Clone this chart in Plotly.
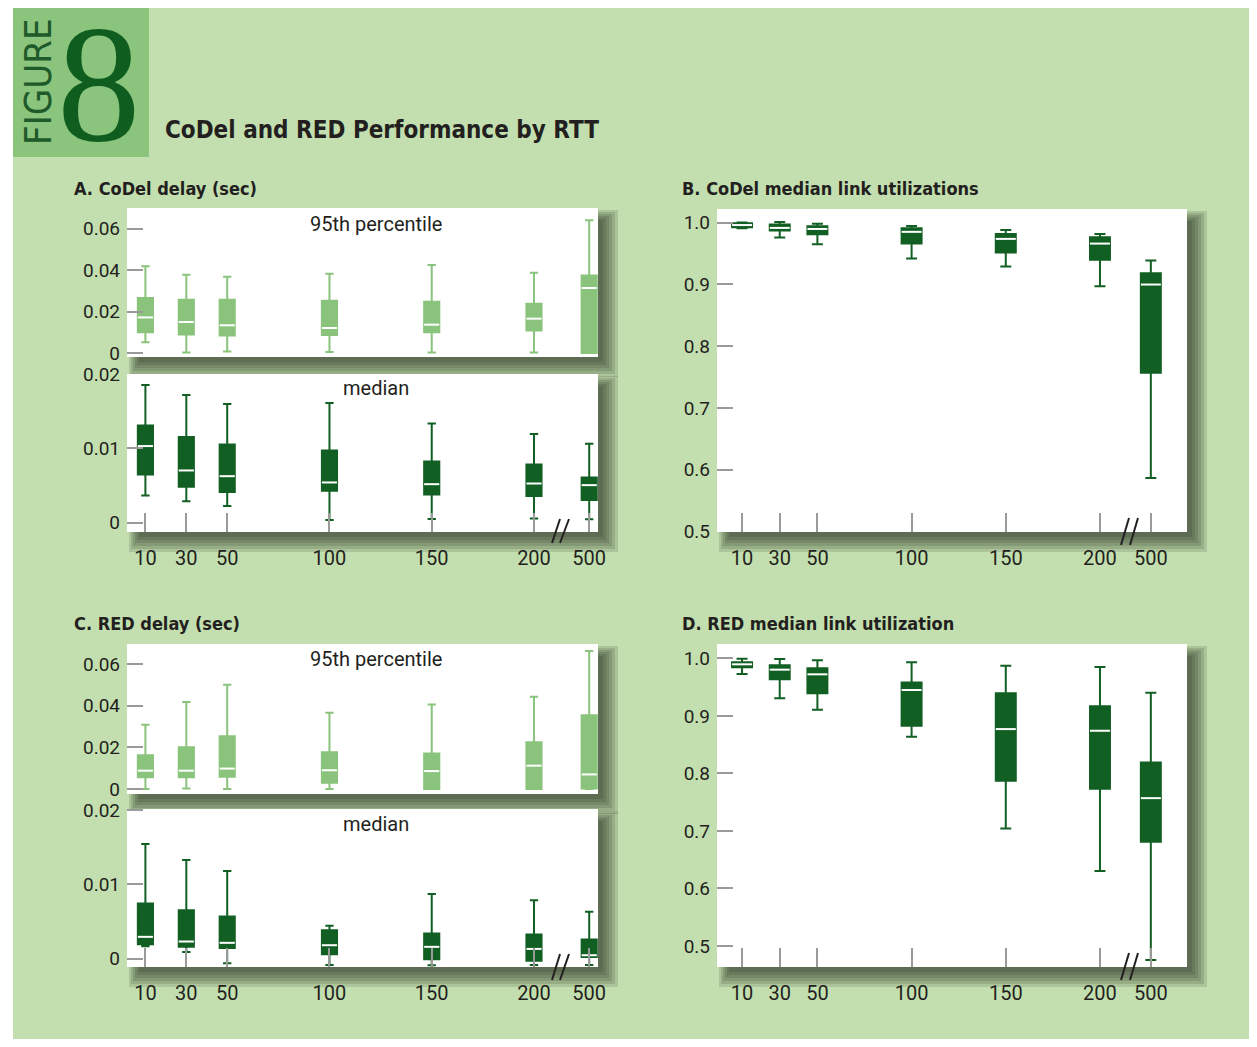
import plotly.graph_objects as go

# ---------------- data ----------------
rtt_labels = ["10", "30", "50", "100", "150", "200", "500"]
# axis positions: RTTs on a linear scale, 500 placed after a scale break
x_positions = [10, 30, 50, 100, 150, 200, 227]

# A. CoDel delay (sec) - 95th percentile
a95_low = [0.0052, 0.0003, 0.0008, 0.0005, 0.0003, 0.0003, 0.0]
a95_q1 = [0.0100, 0.0090, 0.0085, 0.0087, 0.0100, 0.0109, 0.0]
a95_med = [0.0172, 0.0150, 0.0134, 0.0121, 0.0137, 0.0166, 0.0314]
a95_q3 = [0.0266, 0.0257, 0.0257, 0.0253, 0.0248, 0.0238, 0.0374]
a95_high = [0.0419, 0.0378, 0.0368, 0.0383, 0.0425, 0.0388, 0.0641]

# A. CoDel delay (sec) - median
amed_low = [0.00365, 0.00288, 0.00225, 0.00036, 0.0005, 0.00054, 0.00045]
amed_q1 = [0.00649, 0.00482, 0.00414, 0.00428, 0.00378, 0.0036, 0.00306]
amed_med = [0.01032, 0.00703, 0.00626, 0.00541, 0.00518, 0.00527, 0.00505]
amed_q3 = [0.01311, 0.01153, 0.01054, 0.00973, 0.00824, 0.00784, 0.00608]
amed_high = [0.01856, 0.01721, 0.01599, 0.01613, 0.01338, 0.01194, 0.01063]

# B. CoDel median link utilizations
b_low = [0.991, 0.9757, 0.965, 0.9417, 0.9288, 0.897, 0.5863]
b_q1 = [0.9925, 0.987, 0.981, 0.966, 0.9515, 0.940, 0.757]
b_med = [0.996, 0.9914, 0.9897, 0.985, 0.9736, 0.966, 0.8997]
b_q3 = [0.999, 0.997, 0.994, 0.9908, 0.9817, 0.9763, 0.918]
b_high = [1.0, 1.001, 0.998, 0.9946, 0.988, 0.9817, 0.9385]

# C. RED delay (sec) - 95th percentile
c95_low = [0.0, 0.0002, 0.0, 0.0, 0.0, 0.0, 0.0]
c95_q1 = [0.0056, 0.0056, 0.0059, 0.0030, 0.0, 0.0, 0.0002]
c95_med = [0.0088, 0.0088, 0.0098, 0.0090, 0.0086, 0.0112, 0.0070]
c95_q3 = [0.0162, 0.0200, 0.0253, 0.0176, 0.0171, 0.0224, 0.0354]
c95_high = [0.0309, 0.0418, 0.0501, 0.0366, 0.0406, 0.0443, 0.0662]

# C. RED delay (sec) - median
cmed_low = [0.00167, 0.0009, -0.00063, -0.00086, -0.0009, -0.00086, -0.00086]
cmed_q1 = [0.00194, 0.00158, 0.00144, 0.00059, -0.0001, -0.0003, 0.0002]
cmed_med = [0.00293, 0.0023, 0.00212, 0.0018, 0.00158, 0.0013, 0.00045]
cmed_q3 = [0.00743, 0.00653, 0.00568, 0.00383, 0.00338, 0.00324, 0.00257]
cmed_high = [0.01545, 0.01329, 0.0118, 0.00441, 0.0087, 0.00788, 0.0063]

# D. RED median link utilization
d_low = [0.9727, 0.9304, 0.9107, 0.8637, 0.7042, 0.6305, 0.4756]
d_q1 = [0.9843, 0.9635, 0.9391, 0.8828, 0.7871, 0.7732, 0.681]
d_med = [0.9896, 0.9803, 0.9722, 0.9449, 0.877, 0.8741, 0.757]
d_q3 = [0.993, 0.9878, 0.9826, 0.9582, 0.9391, 0.9165, 0.819]
d_high = [0.9994, 0.9988, 0.9965, 0.993, 0.9872, 0.9849, 0.9403]

delay95_ticks = [0, 0.02, 0.04, 0.06]
delay95_text = ["0", "0.02", "0.04", "0.06"]
delaymed_ticks = [0, 0.01, 0.02]
delaymed_text = ["0", "0.01", "0.02"]
util_ticks = [0.5, 0.6, 0.7, 0.8, 0.9, 1.0]
util_text = ["0.5", "0.6", "0.7", "0.8", "0.9", "1.0"]

# ---------------- style ----------------
BG = "#C3DFAF"
FIGBOX = "#8BC47D"
LIGHT = "#8AC47C"
DARK = "#115F22"
TXT = "#231F20"
TICK = "#9A9A9A"
TICKFONT = "Roboto, 'Open Sans', sans-serif"
NARROW = "'Liberation Sans Narrow', 'DejaVu Sans Condensed', 'Arial Narrow', sans-serif"

W, H = 1241, 1031
OX, OY = 8, 8


def px(X):
    return (X - OX) / W


def py(Y):
    return 1 - (Y - OY) / H


# panel rectangles in page pixels: x0, y0, x1, y1
panels = {
    "A95": (127, 208, 598, 357),
    "Amed": (127, 374, 598, 532),
    "B": (717, 209, 1187, 532),
    "C95": (127, 644, 598, 794),
    "Cmed": (127, 809, 598, 967),
    "D": (717, 644, 1187, 967),
}

fig = go.Figure()

specs = [
    ("A95", 1, (a95_low, a95_q1, a95_med, a95_q3, a95_high), LIGHT, [-0.0019, 0.070],
     delay95_ticks, delay95_text, [1.0, 231.3], False, 7.4),
    ("Amed", 2, (amed_low, amed_q1, amed_med, amed_q3, amed_high), DARK, [-0.00127, 0.02004],
     delaymed_ticks, delaymed_text, [1.0, 231.3], True, 7.4),
    ("B", 3, (b_low, b_q1, b_med, b_q3, b_high), DARK, [0.499, 1.022],
     util_ticks, util_text, [-3.3, 246.2], True, 10.6),
    ("C95", 4, (c95_low, c95_q1, c95_med, c95_q3, c95_high), LIGHT, [-0.0024, 0.0696],
     delay95_ticks, delay95_text, [1.0, 231.3], False, 7.4),
    ("Cmed", 5, (cmed_low, cmed_q1, cmed_med, cmed_q3, cmed_high), DARK, [-0.00114, 0.02018],
     delaymed_ticks, delaymed_text, [1.0, 231.3], True, 7.4),
    ("D", 6, (d_low, d_q1, d_med, d_q3, d_high), DARK, [0.4635, 1.0249],
     util_ticks, util_text, [-3.3, 246.2], True, 10.6),
]

shapes = []
# soft drop shadows first (stacked translucent rects approximate a blur)
for key, (x0, y0, x1, y1) in panels.items():
    for k in range(6):
        a = 2 + 2 * k
        b = 20 - 3 * k
        shapes.append(dict(type="rect", xref="paper", yref="paper",
                           x0=px(x0 + a), x1=px(x1 + b),
                           y0=py(y1 + b), y1=py(y0 + a),
                           fillcolor="#1a2618", opacity=0.14, line=dict(width=0),
                           layer="below"))
# white panels
for key, (x0, y0, x1, y1) in panels.items():
    shapes.append(dict(type="rect", xref="paper", yref="paper",
                       x0=px(x0), x1=px(x1), y0=py(y1), y1=py(y0),
                       fillcolor="white", line=dict(width=0), layer="below"))
# figure box and left white strip
shapes.append(dict(type="rect", xref="paper", yref="paper", x0=px(13), x1=px(149),
                   y0=py(157), y1=py(8), fillcolor=FIGBOX, line=dict(width=0), layer="below"))
shapes.append(dict(type="rect", xref="paper", yref="paper", x0=0, x1=px(13),
                   y0=0, y1=1, fillcolor="white", line=dict(width=0), layer="below"))

# axis break marks "//"
for (xa, ya, xb, yb) in [(552, 543, 560, 519), (560, 543, 569, 519),
                         (552, 980, 560, 954), (560, 980, 569, 954),
                         (1121, 545, 1129, 518), (1130, 545, 1138, 518),
                         (1121, 980, 1129, 953), (1130, 980, 1138, 953)]:
    shapes.append(dict(type="line", xref="paper", yref="paper", x0=px(xa), y0=py(ya),
                       x1=px(xb), y1=py(yb), line=dict(color=TXT, width=2), layer="above"))

layout_axes = {}
for key, idx, (lo, q1, med, q3, hi), color, yr, yt, ytx, xr, showx, bw in specs:
    xa = "x" if idx == 1 else f"x{idx}"
    ya = "y" if idx == 1 else f"y{idx}"
    fig.add_trace(go.Box(
        x=x_positions, lowerfence=lo, q1=q1, median=med, q3=q3, upperfence=hi,
        orientation="v", fillcolor=color, line=dict(color=color, width=2),
        width=bw, whiskerwidth=0.55, boxpoints=False, hoverinfo="skip",
        showlegend=False, xaxis=xa, yaxis=ya))
    mx, my = [], []
    for p, m in zip(x_positions, med):
        mx += [p - bw / 2, p + bw / 2, None]
        my += [m, m, None]
    fig.add_trace(go.Scatter(x=mx, y=my, mode="lines", line=dict(color="white", width=2),
                             hoverinfo="skip", showlegend=False, xaxis=xa, yaxis=ya))
    x0, y0, x1, y1 = panels[key]
    xname = "xaxis" if idx == 1 else f"xaxis{idx}"
    yname = "yaxis" if idx == 1 else f"yaxis{idx}"
    layout_axes[xname] = dict(
        domain=[px(x0), px(x1)], anchor=ya, range=xr, showgrid=False, zeroline=False,
        showline=False, tickmode="array", tickvals=x_positions, ticktext=rtt_labels,
        ticks="inside" if showx else "", ticklen=19, tickwidth=2, tickcolor=TICK,
        showticklabels=showx, ticklabelstandoff=12, automargin=False,
        tickfont=dict(family=TICKFONT, size=20, color=TXT), fixedrange=True)
    layout_axes[yname] = dict(
        domain=[py(y1), py(y0)], anchor=xa, range=yr, showgrid=False, zeroline=False,
        showline=False, tickmode="array", tickvals=yt, ticktext=ytx,
        ticks="inside", ticklen=16, tickwidth=2, tickcolor=TICK, automargin=False,
        ticklabelstandoff=6, tickfont=dict(family=TICKFONT, size=19, color=TXT),
        fixedrange=True)

annotations = [
    dict(text="FIGURE", x=px(38), y=py(82), textangle=-90,
         font=dict(family=NARROW, size=38, color="#1E5A2A")),
    dict(text="8", x=px(98.5), y=py(83.5),
         font=dict(family="'Liberation Serif', 'DejaVu Serif', serif", size=167, color="#0F5E20")),
    dict(text="<b>CoDel and RED Performance by RTT</b>", x=px(163), y=py(130), xanchor="left",
         font=dict(family=NARROW, size=24, color=TXT)),
    dict(text="<b>A. CoDel delay (sec)</b>", x=px(72), y=py(188), xanchor="left",
         font=dict(family=NARROW, size=18, color=TXT)),
    dict(text="<b>B. CoDel median link utilizations</b>", x=px(680), y=py(188), xanchor="left",
         font=dict(family=NARROW, size=18, color=TXT)),
    dict(text="<b>C. RED delay (sec)</b>", x=px(72), y=py(623), xanchor="left",
         font=dict(family=NARROW, size=18, color=TXT)),
    dict(text="<b>D. RED median link utilization</b>", x=px(680), y=py(623), xanchor="left",
         font=dict(family=NARROW, size=18, color=TXT)),
    dict(text="95th percentile", x=px(376), y=py(224),
         font=dict(family=TICKFONT, size=20, color=TXT)),
    dict(text="median", x=px(376), y=py(388),
         font=dict(family=TICKFONT, size=20, color=TXT)),
    dict(text="95th percentile", x=px(376), y=py(659),
         font=dict(family=TICKFONT, size=20, color=TXT)),
    dict(text="median", x=px(376), y=py(824),
         font=dict(family=TICKFONT, size=20, color=TXT)),
]
for a in annotations:
    a.setdefault("xref", "paper")
    a.setdefault("yref", "paper")
    a.setdefault("showarrow", False)
    a.setdefault("xanchor", "center")
    a.setdefault("yanchor", "middle")

fig.update_layout(
    template="none",
    width=W, height=H, autosize=False,
    margin=dict(l=0, r=0, t=0, b=0, pad=0, autoexpand=False),
    paper_bgcolor=BG, plot_bgcolor="rgba(0,0,0,0)",
    shapes=shapes, annotations=annotations, showlegend=False,
    **layout_axes,
)

fig.write_html("out.html")
